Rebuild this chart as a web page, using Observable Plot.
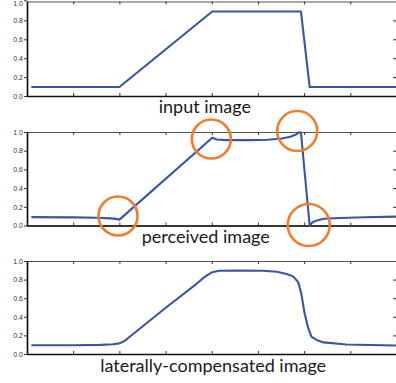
<!DOCTYPE html>
<html>
<head>
<meta charset="utf-8">
<script src="https://cdn.jsdelivr.net/npm/d3@7"></script>
<script src="https://cdn.jsdelivr.net/npm/@observablehq/plot@0.6"></script>
<style>
  html, body { margin: 0; padding: 0; background: #fff; overflow: hidden; }
  #wrap { position: relative; width: 396px; height: 383px; overflow: hidden; }
  #wrap > div { position: absolute; left: 0; }
</style>
</head>
<body>
<div id="wrap"></div>
<script>
// ---- data ----
const xTicks = [1, 2, 3, 4, 5, 6, 7];
const yTicks = [0, 0.2, 0.4, 0.6, 0.8, 1];
const titles = ["input image", "perceived image", "laterally-compensated image"];
const titleX = [3.84, 3.86, 4.02];

const inputX = [0.1, 1.99, 4.0, 5.92, 6.11, 7.97];
const inputY = [0.1, 0.1, 0.9, 0.9, 0.1, 0.1];

const perceivedX = [0.1, 1.0, 1.5, 1.8, 1.92, 1.99, 4.0, 4.1, 4.3, 4.8, 5.2, 5.5, 5.69, 5.8, 5.86, 5.89, 5.92, 6.11, 6.16, 6.23, 6.41, 6.77, 7.3, 7.97];
const perceivedY = [0.095, 0.092, 0.088, 0.082, 0.076, 0.068, 0.943, 0.925, 0.918, 0.918, 0.922, 0.935, 0.955, 0.975, 0.993, 1.003, 1.0, 0.0, 0.035, 0.054, 0.078, 0.086, 0.094, 0.1];

const lateralX = [0.1, 1.0, 1.58, 1.85, 1.99, 2.08, 2.16, 3.0, 3.66, 3.85, 4.0, 4.15, 4.5, 5.1, 5.4, 5.61, 5.75, 5.86, 5.93, 6.0, 6.08, 6.15, 6.26, 6.41, 6.9, 7.97];
const lateralY = [0.1, 0.1, 0.104, 0.11, 0.12, 0.14, 0.169, 0.505, 0.76, 0.84, 0.885, 0.9, 0.903, 0.9, 0.89, 0.866, 0.84, 0.78, 0.65, 0.44, 0.28, 0.19, 0.157, 0.13, 0.108, 0.097];

// annotation circles on the perceived image
const circleX = [1.96, 3.98, 5.84, 6.09];
const circleY = [0.107, 0.93, 1.016, 0.011];
const circleR = [19.5, 19.5, 20, 21];

// ---- layout ----
const panels = [
  {top: 0,     mt: 1.5,  fh: 94.5, mb: 22, title: 0, dy: 16, x: inputX, y: inputY, first: true},
  {top: 106.5, mt: 25,   fh: 93.5, mb: 22, title: 1, dy: 17, x: perceivedX, y: perceivedY, circles: true},
  {top: 236,   mt: 25,   fh: 93,   mb: 29, title: 2, dy: 17, x: lateralX, y: lateralY}
];

const blue = "#3a54a6";
const orange = "#f07d2c";
const wrap = document.getElementById("wrap");
const axisFont = "Liberation Sans, Arial, sans-serif";

for (const p of panels) {
  const marks = [
    Plot.frame({stroke: "#444", strokeWidth: 0.9}),
    Plot.ruleX([0], {stroke: "#111", strokeWidth: 1.7}),
    Plot.ruleY([0], {stroke: "#111", strokeWidth: 1.7}),
    Plot.tickX(xTicks, {x: d => d, insetTop: p.fh - 3, stroke: "#333", strokeWidth: 1}),
    Plot.tickX(xTicks, {x: d => d, insetBottom: p.fh - 3, stroke: "#333", strokeWidth: 1}),
    Plot.tickY(yTicks.slice(1, -1), {y: d => d, insetLeft: 366, stroke: "#333", strokeWidth: 1}),
    Plot.axisY({ticks: p.first ? yTicks.slice(0, -1) : yTicks, tickSize: 3, tickPadding: 1.5, fontSize: 7, fill: "#333", stroke: "#333", label: null, fontFamily: axisFont}),
    Plot.line(p.y, {x: p.x, y: p.y, stroke: blue, strokeWidth: 2.1}),
    Plot.text([titles[p.title]], {x: [titleX[p.title]], text: d => d, frameAnchor: "bottom", lineAnchor: "bottom", dy: p.dy, fontSize: 18, fill: "#1a1a1a", fontFamily: "Lato, 'Open Sans', sans-serif"})
  ];
  if (p.first) {
    // top label of the first panel sits against the page edge
    marks.push(Plot.axisY({ticks: yTicks.slice(-1), tickSize: 3, tickPadding: 1.5, fontSize: 7, fill: "#333", stroke: "#333", label: null, fontFamily: axisFont, lineAnchor: "top", dy: -1.2}));
  }
  if (p.circles) {
    marks.push(Plot.dot(circleX, {x: circleX, y: circleY, r: circleR, fill: "none", stroke: orange, strokeWidth: 2.6}));
  }
  const chart = Plot.plot({
    width: 398,
    height: p.mt + p.fh + p.mb,
    marginLeft: 27,
    marginRight: 1.5,
    marginTop: p.mt,
    marginBottom: p.mb,
    x: {domain: [0, 8], axis: null},
    y: {domain: [0, 1], axis: null},
    r: {type: "identity"},
    style: {background: "transparent", overflow: "visible", maxWidth: "none"},
    marks
  });
  const holder = document.createElement("div");
  holder.style.top = p.top + "px";
  holder.appendChild(chart);
  wrap.appendChild(holder);
}
</script>
</body>
</html>
